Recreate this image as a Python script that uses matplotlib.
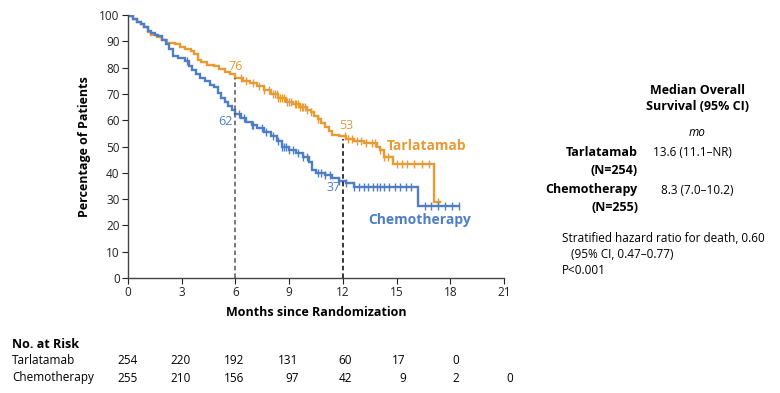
import numpy as np
import matplotlib.pyplot as plt
from matplotlib.transforms import blended_transform_factory

plt.rcParams['font.family'] = ['Open Sans', 'DejaVu Sans']

ORANGE = '#E89A33'
BLUE = '#4E7EC6'

# Kaplan-Meier curves (months, % alive)
tarla_t = [0, 0.1, 0.3, 0.5, 0.7, 0.9, 1.1, 1.3, 1.6, 1.9, 2.2, 2.6, 2.9, 3.2, 3.5, 3.7,
           3.9, 4.1, 4.4, 4.8, 5.1, 5.4, 5.7, 6.0, 6.4, 6.8, 7.2, 7.6, 8.0, 8.4, 8.8,
           9.2, 9.6, 10.0, 10.2, 10.4, 10.6, 10.8, 11.0, 11.2, 11.4, 11.8, 12.2, 12.6,
           13.2, 13.9, 14.1, 14.3, 14.8, 17.1, 17.4]
tarla_s = [100, 99.5, 98.5, 97.5, 96.5, 95.5, 93.5, 92.5, 91.5, 90.5, 89.5, 89, 88, 87,
           86.5, 85, 83, 82, 81, 80.5, 79.5, 78.5, 77.5, 76, 75, 74, 73, 71.5, 70, 68.5,
           67, 66, 65, 64, 63, 61.5, 60.5, 59, 57.5, 56, 54.5, 54, 53, 52, 51.5, 50,
           48.5, 46, 43.5, 29, 29]
chemo_t = [0, 0.1, 0.3, 0.5, 0.7, 0.9, 1.1, 1.3, 1.5, 1.7, 1.9, 2.1, 2.3, 2.5, 2.8, 3.2,
           3.4, 3.6, 3.8, 4.0, 4.3, 4.6, 4.8, 5.0, 5.2, 5.4, 5.6, 5.8, 6.0, 6.3, 6.6,
           6.9, 7.2, 7.6, 8.0, 8.3, 8.6, 9.0, 9.4, 9.8, 10.1, 10.3, 10.5, 11.0, 11.4,
           11.8, 12.2, 12.6, 16.2, 18.5]
chemo_s = [100, 99.5, 98.5, 97.5, 96.5, 95.5, 94, 93, 92.5, 92, 90.5, 89, 87, 84.5, 83.5,
           82.5, 80.5, 79, 77.5, 76, 75, 73.5, 72.5, 70.5, 68.5, 67, 65.5, 64, 62.5, 61,
           59.5, 58, 57, 55.5, 54, 52, 50, 48.5, 47.5, 46, 44, 41, 40, 39, 38, 37, 36,
           34.5, 27.3, 27.3]

# censoring times
tarla_cens = [6.3, 6.6, 7.0, 7.3, 7.6, 7.9, 8.1, 8.2, 8.3, 8.4, 8.5, 8.6, 8.7, 8.9, 9.0,
              9.1, 9.3, 9.4, 9.5, 9.6, 9.7, 9.8, 9.9, 10.0, 10.2, 10.6, 12.1, 12.3, 12.5,
              12.8, 13.0, 13.3, 13.6, 13.8, 14.1, 14.3, 14.5, 15.0, 15.3, 15.6, 16.0,
              16.4, 16.8, 17.3]
chemo_cens = [3.3, 6.2, 6.5, 6.9, 7.0, 7.5, 7.7, 8.1, 8.4, 8.6, 8.7, 8.8, 9.0, 9.2, 9.5,
              9.8, 10.0, 10.6, 10.8, 11.0, 11.3, 11.8, 12.2, 12.6, 12.9, 13.2, 13.4, 13.7,
              13.9, 14.1, 14.3, 14.6, 14.9, 15.2, 15.5, 15.8, 16.6, 16.9, 17.3, 17.7,
              18.1, 18.5]

risk_months = [0, 3, 6, 9, 12, 15, 18, 21]
tarla_risk = [254, 220, 192, 131, 60, 17, 0]
chemo_risk = [255, 210, 156, 97, 42, 9, 2, 0]

W, H = 780, 393
fig = plt.figure(figsize=(W / 100, H / 100), dpi=100)
ax = fig.add_axes([128 / W, 1 - 278 / H, (504 - 128) / W, (278 - 15) / H])


def px(x, y):
    return x / W, 1 - y / H


def step_val(ts, ss, t):
    i = np.searchsorted(ts, t, side='right') - 1
    return np.array(ss)[i]


for ts, ss, cens, col in [(tarla_t, tarla_s, tarla_cens, ORANGE),
                          (chemo_t, chemo_s, chemo_cens, BLUE)]:
    ax.step(ts, ss, where='post', color=col, lw=1.7, solid_joinstyle='miter')
    ax.plot(cens, step_val(ts, ss, cens), ls='none', marker='|', ms=5.5, mew=1.0, color=col)

ax.plot([6, 6], [0, 76], ls=(0, (3, 2)), color='#555555', lw=1.1)
ax.plot([12, 12], [0, 53], ls=(0, (3, 2)), color='black', lw=1.1)

ax.text(6.0, 78, '76', color=ORANGE, ha='center', va='bottom', fontsize=9)
ax.text(5.85, 59.5, '62', color=BLUE, ha='right', va='center', fontsize=9)
ax.text(12.2, 55.5, '53', color=ORANGE, ha='center', va='bottom', fontsize=9)
ax.text(11.85, 34.5, '37', color=BLUE, ha='right', va='center', fontsize=9)
ax.text(14.45, 50, 'Tarlatamab', color=ORANGE, fontsize=10, fontweight='bold', va='center')
ax.text(13.4, 22, 'Chemotherapy', color=BLUE, fontsize=10, fontweight='bold', va='center')

ax.set_xlim(0, 21)
ax.set_ylim(0, 100)
ax.set_xticks(range(0, 22, 3))
ax.set_yticks(range(0, 101, 10))
ax.tick_params(labelsize=8.5, length=4, direction='out', colors='#222222', pad=2)
for s in ['top', 'right']:
    ax.spines[s].set_visible(False)
for s in ['left', 'bottom']:
    ax.spines[s].set_color('#444444')
    ax.spines[s].set_linewidth(1.0)
ax.set_xlabel('Months since Randomization', fontsize=9, fontweight='bold', labelpad=5)
ax.set_ylabel('Percentage of Patients', fontsize=9, fontweight='bold', labelpad=6)

# number at risk table
fig.text(*px(12, 345), 'No. at Risk', fontsize=9, fontweight='bold', va='center')
fig.text(*px(12, 361), 'Tarlatamab', fontsize=8.5, va='center')
fig.text(*px(12, 378), 'Chemotherapy', fontsize=8.5, va='center')
tr = blended_transform_factory(ax.transData, fig.transFigure)
for row, yy in [(tarla_risk, 361), (chemo_risk, 378)]:
    for m, n in zip(risk_months, row):
        ax.text(m + 0.52, 1 - yy / H, str(n), transform=tr, ha='right', va='center',
                fontsize=8.5, clip_on=False)

# right-hand annotation
fig.text(*px(697, 99), 'Median Overall\nSurvival (95% CI)', fontsize=9, fontweight='bold',
         ha='center', va='center', linespacing=1.3)
fig.text(*px(697, 132), 'mo', fontsize=8.5, style='italic', ha='center', va='center')
fig.text(*px(638, 153), 'Tarlatamab', fontsize=9, fontweight='bold', ha='right', va='center')
fig.text(*px(638, 171), '(N=254)', fontsize=9, fontweight='bold', ha='right', va='center')
fig.text(*px(653, 153), '13.6 (11.1–NR)', fontsize=8.5, va='center')
fig.text(*px(638, 190), 'Chemotherapy', fontsize=9, fontweight='bold', ha='right', va='center')
fig.text(*px(638, 208), '(N=255)', fontsize=9, fontweight='bold', ha='right', va='center')
fig.text(*px(661, 190), '8.3 (7.0–10.2)', fontsize=8.5, va='center')
fig.text(*px(562, 238), 'Stratified hazard ratio for death, 0.60', fontsize=8.5, va='center')
fig.text(*px(571, 254), '(95% CI, 0.47–0.77)', fontsize=8.5, va='center')
fig.text(*px(562, 270), 'P<0.001', fontsize=8.5, va='center')

fig.savefig('out.png', dpi=100)
